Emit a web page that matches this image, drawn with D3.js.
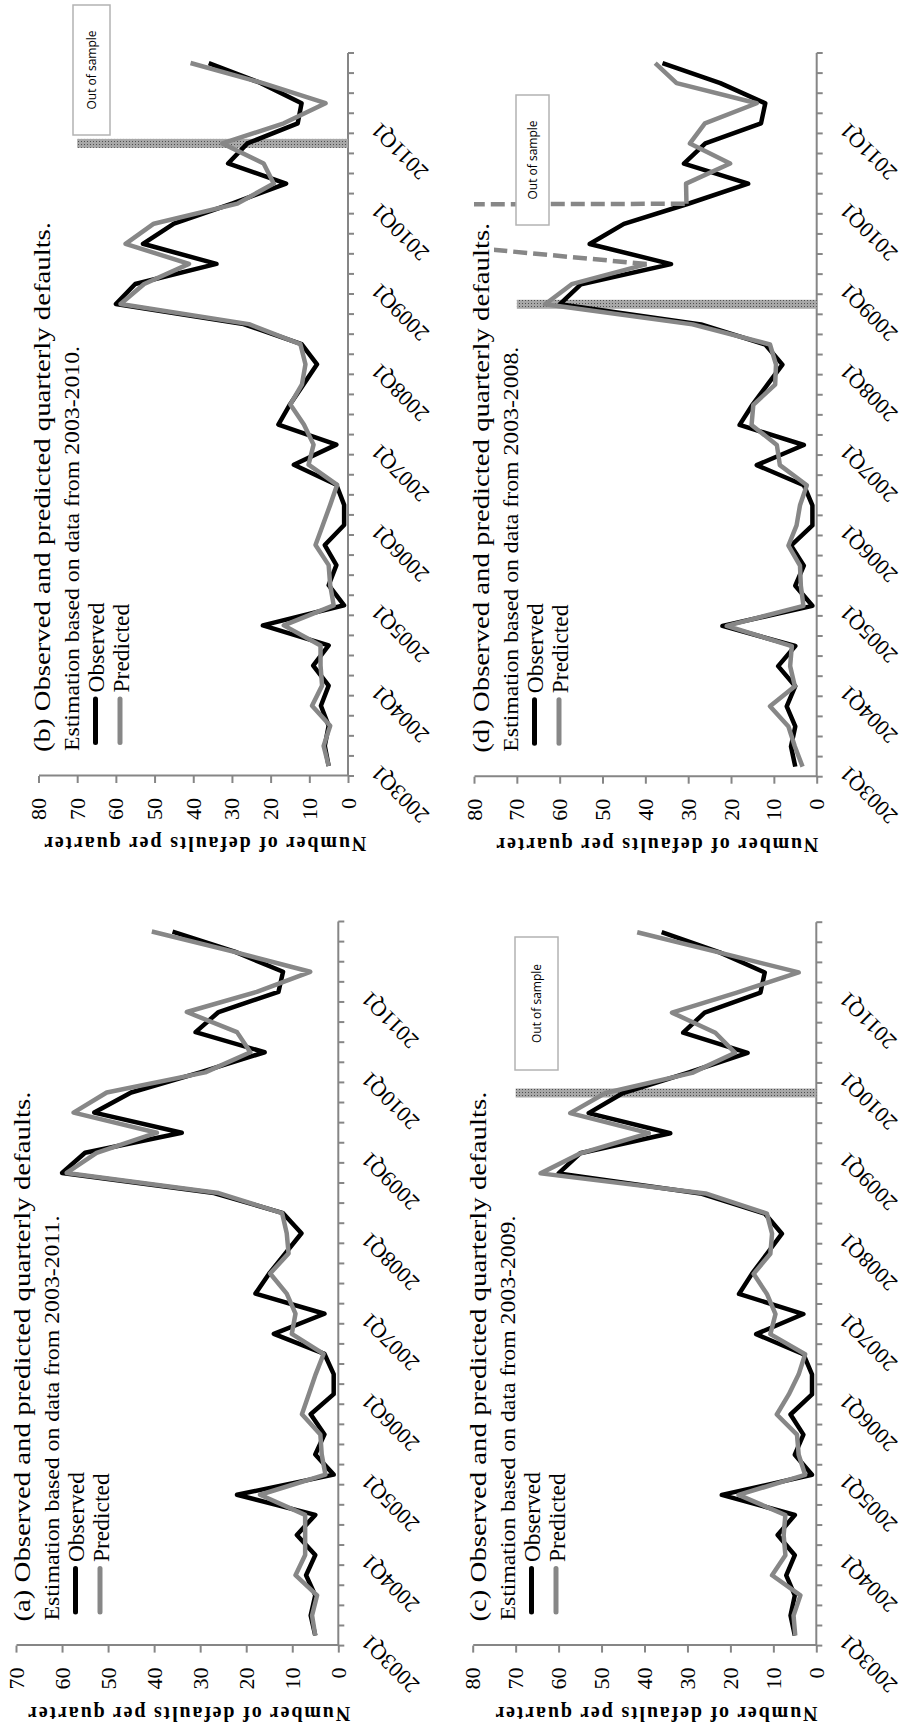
<!DOCTYPE html>
<html>
<head>
<meta charset="utf-8">
<script src="https://cdn.jsdelivr.net/npm/d3@7"></script>
<style>
  body { margin: 0; background: #fff; }
  svg { display: block; }
</style>
</head>
<body>
<svg id="chart" width="904" height="1729"></svg>
<script>
const quarters = [
    "2003Q1", "2003Q2", "2003Q3", "2003Q4", "2004Q1", "2004Q2", "2004Q3", "2004Q4",
    "2005Q1", "2005Q2", "2005Q3", "2005Q4", "2006Q1", "2006Q2", "2006Q3", "2006Q4",
    "2007Q1", "2007Q2", "2007Q3", "2007Q4", "2008Q1", "2008Q2", "2008Q3", "2008Q4",
    "2009Q1", "2009Q2", "2009Q3", "2009Q4", "2010Q1", "2010Q2", "2010Q3", "2010Q4",
    "2011Q1", "2011Q2", "2011Q3", "2011Q4"
];
const yearTicks = ["2003Q1", "2004Q1", "2005Q1", "2006Q1", "2007Q1", "2008Q1", "2009Q1", "2010Q1", "2011Q1"];
const valueTicks70 = [0, 10, 20, 30, 40, 50, 60, 70];
const valueTicks80 = [0, 10, 20, 30, 40, 50, 60, 70, 80];

const observed = [5, 6, 5, 7, 5, 9, 5, 22, 1, 5, 3, 6, 1, 1, 3, 14, 3, 18, 15, 11.5,
    8, 12, 27, 60, 55, 34, 53, 45, 30, 16, 31, 26, 13, 12, 22.5, 36];
const predictedA = [5, 5.7, 4.6, 9.3, 7.2, 7.2, 7.2, 17, 2.8, 3.6, 3.9, 7.9, 6.4, 4.9, 3.2, 10.1, 9.3, 11.2,
    14.8, 10.8, 11.2, 12.2, 26, 59, 52.5, 39.4, 57.5, 50.3, 28.9, 19.1, 22, 32.9, 17.7, 6.1, 22.8, 40.5];
const predictedB = [5, 6.3, 4.6, 9.3, 6.7, 7.1, 7.1, 16.6, 3.7, 4.6, 5, 8.4, 6.5, 4.6, 2.8, 10.2, 8.9, 11.4,
    14.9, 11.9, 11, 12.3, 25.6, 58.8, 52.7, 41.1, 57.5, 50.2, 28.6, 19.2, 21.8, 32.5, 16.6, 5.8, 22, 40.7];
const predictedC = [4.9, 5.3, 3.7, 10.3, 7.2, 7.6, 7.2, 18.1, 2.6, 4.1, 4.5, 9.2, 6.4, 4.1, 2.6, 10.7, 9.5, 11.5,
    14.6, 10.7, 10.3, 11.5, 25.8, 64.2, 54.9, 39, 57.3, 49.1, 28.9, 18.9, 23.5, 33.6, 18.5, 4.1, 22.7, 41.7];
// 2009Q3 and 2009Q4 run off the top of panel (d)
const predictedD = [3.3, 5.1, 6.6, 10.9, 5.1, 6.2, 5.8, 21, 3.1, 3.7, 3.9, 6.6, 4.7, 3.9, 2.3, 8.6, 9.3, 15.2,
    14.8, 9.7, 9.5, 10.9, 29, 63.4, 57.2, 39.7, 90, 2000, 30.4, 30.5, 20.2, 29.6, 26.1, 14, 32.7, 37.7];

const panelIds = ["a", "b", "c", "d"];
const estimationPeriods = ["2003-2011", "2003-2010", "2003-2009", "2003-2008"];
const lastInSample = [null, "2010Q4", "2009Q4", "2008Q4"];
const outOfSampleHeight = 70;
const axisMax = [70, 80, 80, 80];

const serif = "'Liberation Serif', 'Times New Roman', serif";
const sans = "'Open Sans', 'Liberation Sans', sans-serif";
const axisColor = "#868686";
const grayLine = "#878787";

// panel geometry in the unrotated (landscape) frame
const layout = [
    { x0: 83.4, x1: 807.5, y0: 338.3, yTop: 16, titleY: 30, box: null },
    { x0: 953, x1: 1676, y0: 348, yTop: 38.5, titleY: 50, box: { x: 1594, y: 73, w: 130, h: 37 } },
    { x0: 83.4, x1: 806.8, y0: 816.3, yTop: 472.7, titleY: 486, box: { x: 659, y: 515, w: 133, h: 43 } },
    { x0: 952.3, x1: 1676, y0: 816.7, yTop: 474, titleY: 489, box: { x: 1504, y: 516, w: 130, h: 33 } }
];

function createAxes(g, scaleX, scaleY, ticks, area) {
    g.append("g")
        .attr("transform", `translate(${area.x0},0)`)
        .attr("color", axisColor)
        .call(d3.axisLeft(scaleY).tickValues(ticks).tickSize(7).tickSizeOuter(0).tickPadding(15))
        .attr("font-family", serif)
        .attr("font-size", 22)
        .call(a => a.selectAll("path, line").attr("stroke-width", 2))
        .call(a => a.selectAll("text").attr("fill", "#000"));

    const bounds = quarters.map(q => scaleX(q)).concat([scaleX.range()[1]]);
    const tg = g.append("g");

    tg.append("line")
        .attr("x1", area.x0).attr("x2", area.x1)
        .attr("y1", area.y0).attr("y2", area.y0)
        .attr("stroke", axisColor).attr("stroke-width", 2);

    tg.selectAll(".qtick")
        .data(bounds)
        .join("line")
        .attr("class", "qtick")
        .attr("x1", d => d).attr("x2", d => d)
        .attr("y1", area.y0).attr("y2", area.y0 + 6)
        .attr("stroke", axisColor).attr("stroke-width", 2);

    tg.selectAll(".qlabel")
        .data(yearTicks)
        .join("text")
        .attr("class", "qlabel")
        .attr("transform", d => `translate(${scaleX(d) + scaleX.bandwidth() / 2 + 2},${area.y0 + 32}) rotate(-45)`)
        .attr("text-anchor", "end")
        .attr("font-family", serif)
        .attr("font-size", 22)
        .text(d => d);

    g.append("text")
        .attr("transform", `translate(${area.x0 - 61.3},${(area.y0 + area.yTop) / 2 + 12}) rotate(-90)`)
        .attr("text-anchor", "middle")
        .attr("font-family", serif)
        .attr("font-weight", "bold")
        .attr("font-size", 20)
        .attr("textLength", 322)
        .attr("lengthAdjust", "spacing")
        .text("Number of defaults per quarter");
}

function createBar(g, scaleX, scaleY, quarter) {
    if (!quarter) return;
    const cx = scaleX(quarter) + scaleX.bandwidth() / 2;
    g.append("rect")
        .attr("x", cx - 4.5)
        .attr("width", 9)
        .attr("y", scaleY(outOfSampleHeight))
        .attr("height", scaleY(0) - scaleY(outOfSampleHeight))
        .attr("fill", "url(#dots)");
}

function createLines(g, scaleX, scaleY, predicted, max, clipId) {
    const pts = quarters.map((q, i) => ({ q: q, obs: observed[i], pred: predicted[i] }));
    const cx = d => scaleX(d.q) + scaleX.bandwidth() / 2;
    const off = i => pts[i] !== undefined && pts[i].pred > max;

    const lg = g.append("g").attr("clip-path", `url(#${clipId})`);

    lg.append("path")
        .datum(pts)
        .attr("fill", "none")
        .attr("stroke", "#000")
        .attr("stroke-width", 4.5)
        .attr("stroke-linejoin", "round")
        .attr("d", d3.line().x(cx).y(d => scaleY(d.obs)));

    lg.append("path")
        .datum(pts)
        .attr("fill", "none")
        .attr("stroke", grayLine)
        .attr("stroke-width", 4.5)
        .attr("stroke-linejoin", "round")
        .attr("d", d3.line().defined(d => d.pred <= max).x(cx).y(d => scaleY(d.pred)));

    if (pts.some(d => d.pred > max)) {
        lg.append("path")
            .datum(pts)
            .attr("fill", "none")
            .attr("stroke", grayLine)
            .attr("stroke-width", 4.5)
            .attr("stroke-dasharray", "14,6")
            .attr("d", d3.line()
                .defined((d, i) => off(i) || off(i - 1) || off(i + 1))
                .x(cx).y(d => scaleY(d.pred)));
    }
}

function createLabels(g, k, area) {
    const tx = area.x0 + 24;

    if (area.box) {
        g.append("rect")
            .attr("x", area.box.x).attr("y", area.box.y)
            .attr("width", area.box.w).attr("height", area.box.h)
            .attr("fill", "#fff")
            .attr("stroke", "#b3b3b3")
            .attr("stroke-width", 1.5);
        g.append("text")
            .attr("x", area.box.x + area.box.w / 2)
            .attr("y", area.box.y + area.box.h / 2)
            .attr("dy", "0.35em")
            .attr("text-anchor", "middle")
            .attr("font-family", sans)
            .attr("font-size", 12)
            .text("Out of sample");
    }

    const title = g.append("text")
        .attr("x", tx).attr("y", area.titleY)
        .attr("font-family", serif)
        .attr("font-size", 24)
        .attr("textLength", 530)
        .attr("lengthAdjust", "spacingAndGlyphs")
        .text(`(${panelIds[k]}) Observed and predicted quarterly defaults.`);
    const bb = title.node().getBBox();
    g.insert("rect", () => title.node())
        .attr("x", bb.x).attr("y", bb.y)
        .attr("width", bb.width).attr("height", bb.height)
        .attr("fill", "#fff");

    g.append("text")
        .attr("x", tx + 1).attr("y", area.titleY + 28.5)
        .attr("font-family", serif)
        .attr("font-size", 21.5)
        .attr("textLength", 405)
        .attr("lengthAdjust", "spacingAndGlyphs")
        .text(`Estimation based on data from ${estimationPeriods[k]}.`);

    const legendItems = [{ label: "Observed", color: "#000" }, { label: "Predicted", color: grayLine }];
    legendItems.forEach((it, j) => {
        const ly = area.titleY + 45.5 + j * 24.5;
        g.append("line")
            .attr("x1", tx + 9.5).attr("x2", tx + 53)
            .attr("y1", ly).attr("y2", ly)
            .attr("stroke", it.color)
            .attr("stroke-width", 5)
            .attr("stroke-linecap", "round");
        g.append("text")
            .attr("x", tx + 59.5).attr("y", ly + 8.5)
            .attr("font-family", serif)
            .attr("font-size", 23.5)
            .text(it.label);
    });
}

function drawFigure() {
    const predictions = [predictedA, predictedB, predictedC, predictedD];
    const svg = d3.select("#chart");
    svg.selectAll("*").remove();

    const defs = svg.append("defs");
    const pat = defs.append("pattern")
        .attr("id", "dots")
        .attr("width", 3).attr("height", 3)
        .attr("patternUnits", "userSpaceOnUse");
    pat.append("rect").attr("width", 3).attr("height", 3).attr("fill", "#a8a8a8");
    pat.append("rect").attr("width", 1).attr("height", 1).attr("fill", "#4f4f4f");

    // the whole landscape figure is turned a quarter turn counter-clockwise
    const root = svg.append("g").attr("transform", "translate(0,1729) rotate(-90)");

    layout.forEach((area, k) => {
        const g = root.append("g");
        const max = axisMax[k];

        const scaleX = d3.scaleBand().domain(quarters).range([area.x0, area.x1]);
        const scaleY = d3.scaleLinear().domain([0, max]).range([area.y0, area.yTop]);

        const clipId = `clip-${panelIds[k]}`;
        defs.append("clipPath").attr("id", clipId)
            .append("rect")
            .attr("x", area.x0).attr("y", area.yTop)
            .attr("width", area.x1 - area.x0)
            .attr("height", area.y0 - area.yTop + 6);

        createAxes(g, scaleX, scaleY, max === 70 ? valueTicks70 : valueTicks80, area);
        createBar(g, scaleX, scaleY, lastInSample[k]);
        createLines(g, scaleX, scaleY, predictions[k], max, clipId);
        createLabels(g, k, area);
    });
}

drawFigure();
</script>
</body>
</html>
